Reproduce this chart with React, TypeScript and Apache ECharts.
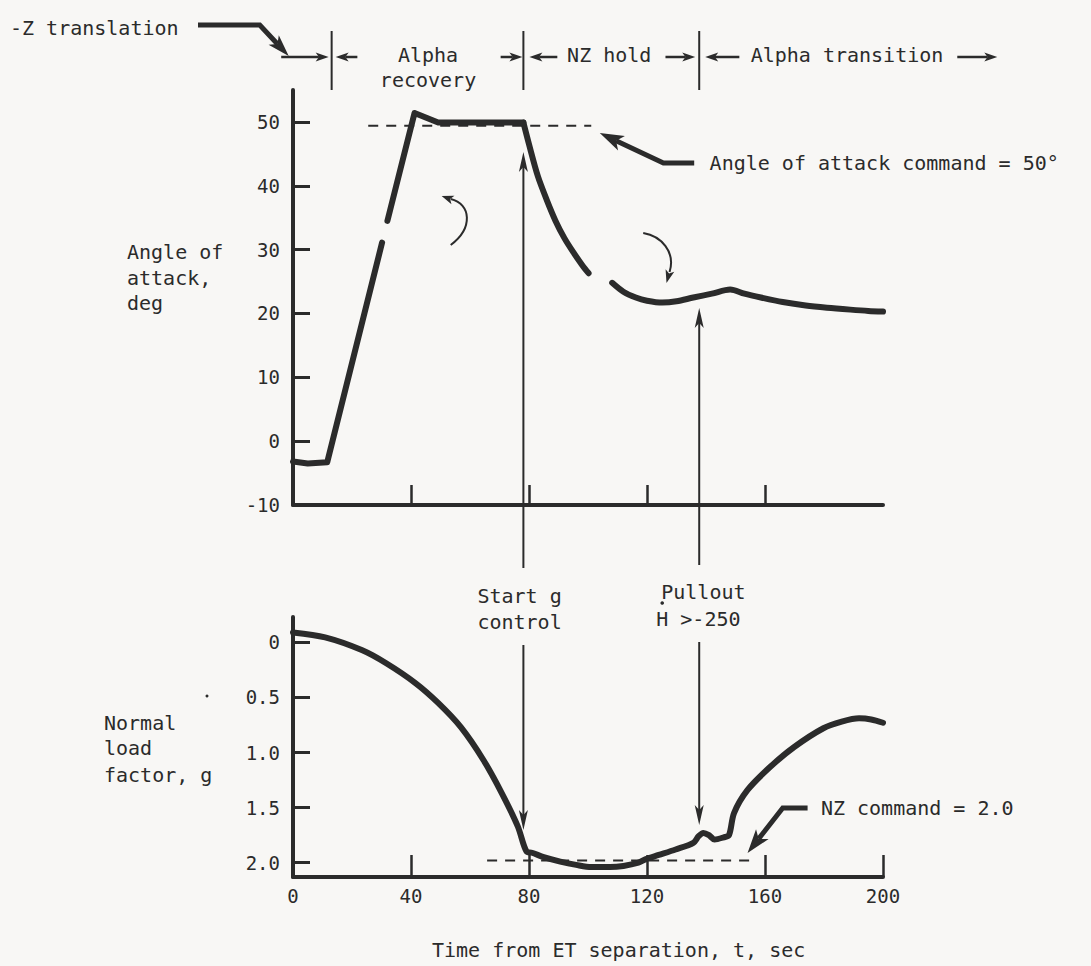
import React, { useEffect, useRef } from "react";
import * as echarts from "echarts";

// ---- data (time in s, angle of attack in deg, normal load factor in g) ----
const xTicks = [0, 40, 80, 120, 160, 200];
const alphaTicks = [-10, 0, 10, 20, 30, 40, 50];
const nzTicks = [0, 0.5, 1.0, 1.5, 2.0];

const alphaRise: number[][] = [[0, -3.2], [5, -3.5], [11.6, -3.3], [30.2, 31.1]];
const alphaPeak: number[][] = [[32.0, 34.5], [41.2, 51.4], [49.2, 49.9], [78.1, 49.9]];
const alphaDecline: number[][] = [
  [78.1, 49.9], [80, 46.5], [83, 41.5], [86, 37.8], [89, 34.5], [92, 31.8],
  [95, 29.6], [98, 27.6], [100.2, 26.3],
];
const alphaTail: number[][] = [
  [108.2, 24.8], [112, 23.4], [116.2, 22.5], [120, 22.0], [125.2, 21.7], [130, 21.9],
  [135.7, 22.5], [142, 23.1], [148.2, 23.75], [153, 23.1], [158.6, 22.5], [166, 21.8],
  [173.8, 21.25], [181, 20.9], [188.9, 20.6], [195, 20.4], [200, 20.3],
];
const alphaCommand: number[][] = [[25.5, 49.4], [101.1, 49.4]];

const nzLoad: number[][] = [
  [0, -0.09], [10.9, -0.045], [23.3, 0.07], [31.6, 0.19], [41.5, 0.37], [49.2, 0.55],
  [56.9, 0.77], [64.6, 1.07], [70.8, 1.37], [76.2, 1.67], [79.2, 1.9], [81, 1.91],
  [85, 1.95], [90.6, 1.99], [96, 2.02], [101.1, 2.04], [107.5, 2.04], [112, 2.03],
  [117.1, 2.0], [119.4, 1.97], [124, 1.93], [129.7, 1.88], [135.7, 1.82], [137.5, 1.76],
  [139.1, 1.73], [141, 1.75], [142.9, 1.79], [146, 1.77], [147.8, 1.75], [149.5, 1.55],
  [154.1, 1.34], [161.8, 1.13], [169.9, 0.95], [179.8, 0.78], [186, 0.72], [191.9, 0.69],
  [196, 0.7], [200, 0.73],
];
const nzCommand: number[][] = [[65.8, 1.98], [155.8, 1.98]];

const startGTime = 78.1;
const pulloutTime = 137.7;
const zTranslationEnd = 13.1;

// reference scan tick positions, used only to place annotations consistently
const refTickPx = [293, 403, 507, 632, 747, 880];

const FONT = '"DejaVu Sans Mono", "Liberation Mono", monospace';
const INK = "#2b2b2b";
const BG = "#f8f7f5";

function refToT(px: number): number {
  let i = 0;
  if (px >= refTickPx[refTickPx.length - 1]) i = refTickPx.length - 2;
  else {
    for (let k = 0; k < refTickPx.length - 1; k++) {
      if (px <= refTickPx[k + 1]) { i = k; break; }
    }
  }
  const p0 = refTickPx[i], p1 = refTickPx[i + 1];
  return xTicks[i] + ((px - p0) / (p1 - p0)) * (xTicks[i + 1] - xTicks[i]);
}

function txt(text: string, x: number, y: number, align = "left", size = 20) {
  return {
    type: "text", x, y, silent: true, z: 100,
    style: {
      text, fill: INK, fontSize: size, fontFamily: FONT,
      align, verticalAlign: "middle", textAlign: align, textVerticalAlign: "middle",
    },
  };
}
function seg(x1: number, y1: number, x2: number, y2: number, w: number) {
  return { type: "line", silent: true, z: 100, shape: { x1, y1, x2, y2 }, style: { stroke: INK, lineWidth: w, lineCap: "butt" } };
}
// arrow along a polyline, head at the last point
function arrow(points: number[][], w: number, len: number, hw: number, notch = 0.75) {
  const n = points.length;
  const [tx, ty] = points[n - 1];
  const [fx, fy] = points[n - 2];
  const L = Math.hypot(tx - fx, ty - fy);
  const ux = (tx - fx) / L, uy = (ty - fy) / L;
  const bx = tx - ux * len, by = ty - uy * len;
  const nx = tx - ux * len * notch, ny = ty - uy * len * notch;
  const shaft = points.slice(0, n - 1).concat([[nx, ny]]);
  return [
    { type: "polyline", silent: true, z: 100, shape: { points: shaft }, style: { stroke: INK, lineWidth: w, fill: null, lineJoin: "miter" } },
    {
      type: "polygon", silent: true, z: 101,
      shape: { points: [[tx, ty], [bx - uy * hw / 2, by + ux * hw / 2], [nx, ny], [bx + uy * hw / 2, by - ux * hw / 2]] },
      style: { fill: INK },
    },
  ];
}

export default function App() {
  const ref = useRef<HTMLDivElement>(null);

  useEffect(() => {
    if (!ref.current) return;
    const chart = echarts.init(ref.current, null, { renderer: "svg" });
    const axisCommon = {
      axisLine: { onZero: false, lineStyle: { color: INK, width: 4 } },
      splitLine: { show: false },
    };
    const labelStyle = { color: INK, fontSize: 19, fontFamily: FONT };
    const lineSeries = (data: number[][], gi: number, smooth: number | boolean) => ({
      type: "line", xAxisIndex: gi, yAxisIndex: gi, data, symbol: "none", showSymbol: false,
      smooth, lineStyle: { color: INK, width: 6, cap: "round", join: "round" }, silent: true, z: 5,
    });
    const dashed = (data: number[][], gi: number) => ({
      type: "line", xAxisIndex: gi, yAxisIndex: gi, data, symbol: "none", showSymbol: false,
      lineStyle: { color: INK, width: 2, type: [10, 8] }, silent: true, z: 4,
    });

    chart.setOption({
      animation: false,
      backgroundColor: BG,
      grid: [
        { left: 293, top: 90, width: 590, height: 415 },
        { left: 293, top: 617, width: 590, height: 260 },
      ],
      xAxis: [
        {
          type: "value", gridIndex: 0, min: 0, max: 200, interval: 40, ...axisCommon,
          axisTick: { inside: true, length: 20, lineStyle: { color: INK, width: 2.5 }, customValues: [40, 80, 120, 160] },
          axisLabel: { show: false },
        },
        {
          type: "value", gridIndex: 1, min: 0, max: 200, interval: 40, ...axisCommon,
          axisTick: { inside: true, length: 22, lineStyle: { color: INK, width: 2.5 }, customValues: xTicks.slice(1) },
          axisLabel: { ...labelStyle, margin: 9, customValues: xTicks },
        },
      ],
      yAxis: [
        {
          type: "value", gridIndex: 0, min: -10, max: 55, interval: 10, ...axisCommon,
          axisTick: { inside: true, length: 17, lineStyle: { color: INK, width: 3 }, customValues: alphaTicks },
          axisLabel: { ...labelStyle, margin: 13, customValues: alphaTicks },
        },
        {
          type: "value", gridIndex: 1, inverse: true, min: -0.23, max: 2.13, ...axisCommon,
          axisTick: { inside: true, length: 17, lineStyle: { color: INK, width: 3 }, customValues: nzTicks },
          axisLabel: {
            ...labelStyle, margin: 13, customValues: nzTicks,
            formatter: (v: number) => (v === 0 ? "0" : v.toFixed(1)),
          },
        },
      ],
      series: [
        lineSeries(alphaRise, 0, false),
        lineSeries(alphaPeak, 0, false),
        lineSeries(alphaDecline, 0, 0.3),
        lineSeries(alphaTail, 0, 0.3),
        dashed(alphaCommand, 0),
        lineSeries(nzLoad, 1, 0.3),
        dashed(nzCommand, 1),
      ],
    });

    const px = (t: number) => chart.convertToPixel({ xAxisIndex: 1 }, t) as number;
    const X = (refPx: number) => px(refToT(refPx));
    const s0 = px(zTranslationEnd), s1 = px(startGTime), s2 = px(pulloutTime);
    const charW = 12.04;
    const transLeft = X(733);
    const transEnd = transLeft + 16 * charW;

    const g: any[] = [
      // header
      txt("-Z translation", 10, 28),
      ...arrow([[198, 25], [X(262), 25], [X(289), 56]], 5, 22, 14),
      seg(s0, 31, s0, 90, 2),
      seg(s1, 31, s1, 90, 2),
      seg(s2, 31, s2, 90, 2),
      ...arrow([[X(282), 57], [s0 - 3, 57]], 2.5, 13, 9),
      ...arrow([[X(353), 57], [s0 + 4, 57]], 2.5, 13, 9),
      txt("Alpha", X(418), 55, "center"),
      txt("recovery", X(418), 80, "center"),
      ...arrow([[X(482), 57], [s1 - 1, 57]], 2.5, 13, 9),
      ...arrow([[X(537), 57], [s1 + 6, 57]], 2.5, 13, 9),
      txt("NZ hold", X(592), 55, "center"),
      ...arrow([[X(650), 57], [s2 - 4, 57]], 2.5, 13, 9),
      ...arrow([[X(722), 57], [s2 + 6, 57]], 2.5, 13, 9),
      txt("Alpha transition", transLeft, 55),
      ...arrow([[transEnd + 14, 57], [transEnd + 54, 57]], 2.5, 13, 9),

      // y axis titles
      txt("Angle of", 127, 252),
      txt("attack,", 127, 278),
      txt("deg", 127, 303),
      txt("Normal", 104, 723),
      txt("load", 104, 748),
      txt("factor, g", 104, 775),
      txt("Time from ET separation, t, sec", 432, 950),
      { type: "circle", silent: true, z: 100, shape: { cx: 207, cy: 696, r: 1.5 }, style: { fill: INK } },

      // start g control
      ...arrow([[s1, 568], [s1, 152]], 2, 20, 9),
      txt("Start g", s1 - 46, 596),
      txt("control", s1 - 46, 622),
      ...arrow([[s1, 645], [s1, 830]], 2, 20, 9),

      // pullout
      ...arrow([[s2, 565], [s2, 308]], 2, 20, 9),
      txt("Pullout", s2 - 38, 592),
      txt("H >-250", s2 - 43, 619),
      { type: "circle", silent: true, z: 100, shape: { cx: s2 - 37, cy: 603, r: 1.8 }, style: { fill: INK } },
      ...arrow([[s2, 642], [s2, 825]], 2, 20, 9),

      // angle of attack command callout
      txt("Angle of attack command = 50\u00b0", X(693), 163),
      ...arrow([[X(678), 163], [X(648), 163], [X(582), 133]], 5, 24, 16),

      // NZ command callout
      txt("NZ command = 2.0", X(810), 808),
      ...arrow([[X(795), 808], [X(767), 808], [X(730), 853]], 5, 24, 16),
    ];

    // curved pointer arrows
    const c1 = { x1: X(438), y1: 245, cpx1: X(458), cpy1: 228, cpx2: X(456), cpy2: 204, x2: X(438), y2: 199 };
    g.push({ type: "bezierCurve", silent: true, z: 100, shape: c1, style: { stroke: INK, lineWidth: 2, fill: null } });
    g.push(...arrow([[X(440), 200], [X(430), 196]], 0.1, 12, 9).slice(1));
    const c2 = { x1: X(628), y1: 233, cpx1: X(646), cpy1: 236, cpx2: X(660), cpy2: 252, x2: X(654), y2: 272 };
    g.push({ type: "bezierCurve", silent: true, z: 100, shape: c2, style: { stroke: INK, lineWidth: 2, fill: null } });
    g.push(...arrow([[X(655), 268], [X(651), 283]], 0.1, 13, 9).slice(1));

    chart.setOption({ graphic: g });

    return () => chart.dispose();
  }, []);

  return (
    <div
      ref={ref}
      style={{ position: "fixed", left: 0, top: 0, width: 1091, height: 966, background: BG }}
    />
  );
}
